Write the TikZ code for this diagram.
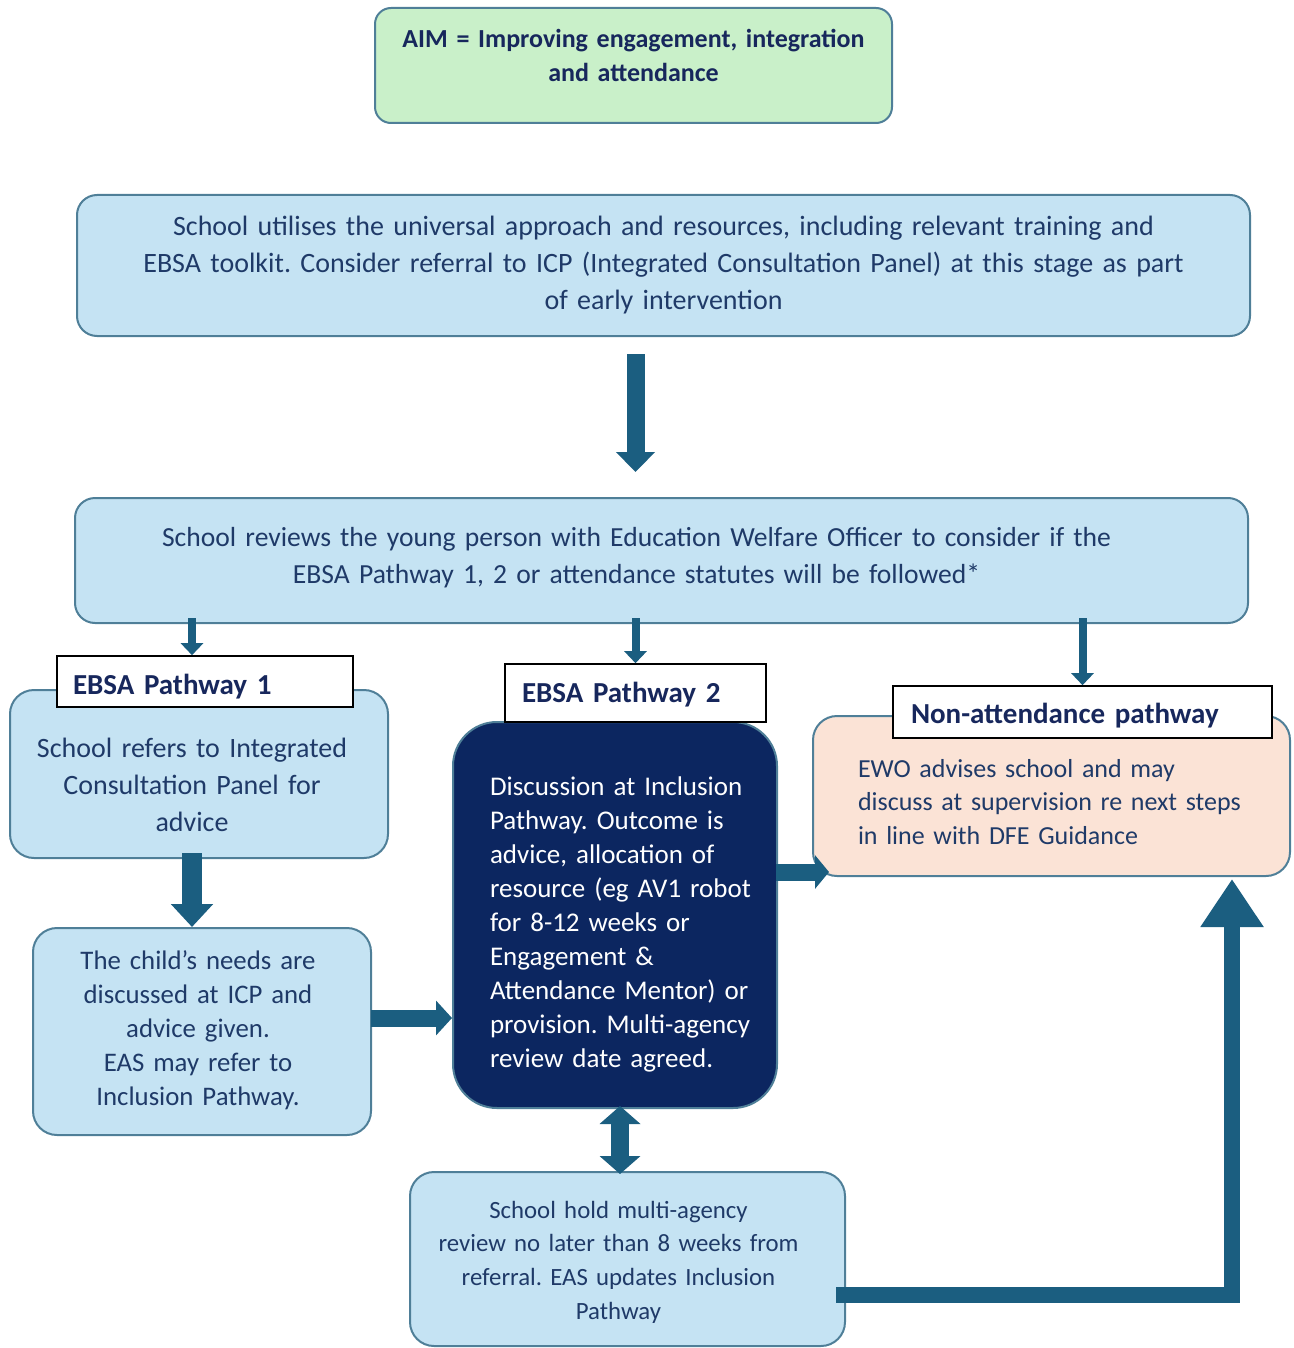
\documentclass[tikz,border=0pt]{standalone}
\usepackage{fontspec}
\setmainfont{Carlito}
\usetikzlibrary{arrows.meta,calc}
\definecolor{lblue}{HTML}{C5E3F3}
\definecolor{bord}{HTML}{4F7F98}
\definecolor{txt}{HTML}{1F3A68}
\definecolor{labtxt}{HTML}{17275C}
\definecolor{lgreen}{HTML}{C9F0C9}
\definecolor{navy}{HTML}{0C2660}
\definecolor{peach}{HTML}{FBE3D6}
\definecolor{arr}{HTML}{1B5E80}
\frenchspacing
\newcommand\rpad[1]{\makebox[#1]{}}
\begin{document}
\begin{tikzpicture}[x=0.5pt,y=-0.5pt,
  box/.style={draw=bord, line width=1pt, fill=lblue, rounded corners=10pt, text=txt, inner sep=0pt, text height=0pt},
  greenbox/.style={box, fill=lgreen, rounded corners=8pt},
  darkbox/.style={draw=bord, line width=1pt, fill=navy, rounded corners=22pt, text=white, inner sep=0pt, text height=0pt},
  peachbox/.style={box, fill=peach},
  labbox/.style={draw=black, line width=0.8pt, fill=white, inner sep=0pt, text=labtxt, align=left, text depth=0pt, font=\fontsize{14.5}{17}\selectfont\bfseries},
  arrbig/.style={draw=arr, line width=9pt, -{Triangle[width=19pt,length=10pt]}},
  arrsmall/.style={draw=arr, line width=4pt, -{Triangle[width=11pt,length=6pt]}},
]
\useasboundingbox (0,0) rectangle (1294,1348);

% boxes
\node[greenbox, minimum width=258.5pt, minimum height=57.5pt, text width=250pt, align=center, text depth=17.5pt,
  font=\fontsize{13}{17}\selectfont\bfseries, text=labtxt] (aim) at (633.5,65.5)
  {AIM = Improving engagement, integration\\and attendance};

\node[box, minimum width=586.5pt, minimum height=70.5pt, text width=580pt, align=center, text depth=30.5pt,
  font=\fontsize{14}{18.5}\selectfont] (b2) at (663.5,265.5)
  {School utilises the universal approach and resources, including relevant training and\\
   EBSA toolkit. Consider referral to ICP (Integrated Consultation Panel) at this stage as part\\
   of early intervention};

\node[box, minimum width=586.5pt, minimum height=62.5pt, text width=580pt, align=center, text depth=14.5pt,
  font=\fontsize{13.8}{18.5}\selectfont] (b3) at (661.5,560.5)
  {School reviews the young person with Education Welfare Officer to consider if the\rpad{25pt}\\
   EBSA Pathway 1, 2 or attendance statutes will be followed*\rpad{25pt}};

\node[box, rounded corners=12pt, minimum width=189pt, minimum height=84pt, text width=185pt, align=center, text depth=17pt,
  font=\fontsize{14}{18.5}\selectfont] (p1) at (199,774)
  {School refers to Integrated\rpad{7pt}\\Consultation Panel for\rpad{7pt}\\advice\rpad{7pt}};

\node[box, rounded corners=12pt, minimum width=169pt, minimum height=103.5pt, text width=165pt, align=center, text depth=62.5pt,
  font=\fontsize{13.4}{17}\selectfont] (child) at (202,1031.5)
  {The child's needs are\rpad{4pt}\\discussed at ICP and\rpad{4pt}\\advice given.\rpad{4pt}\\EAS may refer to\rpad{4pt}\\Inclusion Pathway.\rpad{4pt}};

\node[darkbox, minimum width=162pt, minimum height=193pt, text width=125pt, align=left, text depth=120pt,
  font=\fontsize{13.5}{17}\selectfont] (dark) at (615,915)
  {\mbox{Discussion at Inclusion}\\\mbox{Pathway. Outcome is}\\\mbox{advice, allocation of}\\\mbox{resource (eg AV1 robot}\\\mbox{for 8-12 weeks or}\\\mbox{Engagement \&}\\\mbox{Attendance Mentor) or}\\\mbox{provision. Multi-agency}\\\mbox{review date agreed.}};

\node[peachbox, rounded corners=12pt, minimum width=238.5pt, minimum height=80pt, text width=193.5pt, align=left, text depth=19pt,
  font=\fontsize{13}{16.75}\selectfont] (peach) at (1051.5,796)
  {\mbox{EWO advises school and may}\\\mbox{discuss at supervision re next steps}\\\mbox{in line with DFE Guidance}};

\node[box, rounded corners=12pt, minimum width=217.5pt, minimum height=87pt, text width=214pt, align=center, text depth=41pt,
  font=\fontsize{12.4}{16.9}\selectfont] (review) at (627.5,1259)
  {School hold multi-agency\rpad{9pt}\\review no later than 8 weeks from\rpad{9pt}\\referral. EAS updates Inclusion\rpad{9pt}\\Pathway\rpad{9pt}};

% label boxes
\node[labbox, minimum width=148pt, minimum height=25.5pt, text width=132pt, text height=12.5pt] (p1lab) at (205,681.5)
  {\mbox{EBSA Pathway 1}};
\node[labbox, minimum width=130.5pt, minimum height=29pt, text width=113.5pt, text height=9pt] (p2lab) at (635.5,693)
  {\mbox{EBSA Pathway 2}};
\node[labbox, minimum width=189.5pt, minimum height=26pt, text width=171.5pt, text height=11pt] (nalab) at (1082.5,712)
  {\mbox{Non-attendance pathway}};

% arrows
\draw[arrbig] ($(b2.south -| p2lab.north)+(0,17)$) -- ($(b3.north -| p2lab.north)+(0,-25)$);

\draw[arrsmall] ($(b3.south -| p1lab.north)+(-13,-6)$) -- ($(p1lab.north)+(-13,0)$);
\draw[arrsmall] ($(b3.south -| p2lab.north)+(0,-6)$) -- (p2lab.north);
\draw[arrsmall] ($(b3.south -| nalab.north)+(0,-6)$) -- (nalab.north);

\draw[draw=arr, line width=10pt, -{Triangle[width=20.5pt,length=11.5pt]}]
  ($(p1.south)+(-7,-6)$) -- ($(child.north -| p1.south)+(-7,0)$);

\draw[draw=arr, line width=8.5pt, -{Triangle[width=17pt,length=8pt]}]
  ($(child.east)+(-1,-13.5)$) -- ($(child.east -| dark.west)+(0,-13.5)$);

\draw[draw=arr, line width=8.5pt, -{Triangle[width=16.5pt,length=7pt]}]
  ($(dark.east |- peach.west)+(-2,76)$) -- ($(peach.west)+(17,76)$);

\draw[draw=arr, line width=9pt, {Triangle[width=20pt,length=9pt]}-{Triangle[width=20pt,length=9pt]}]
  ($(dark.south)+(5,-3)$) -- ($(review.north -| dark.south)+(5,3)$);

\draw[draw=arr, line width=8pt, -{Triangle[width=30pt,length=24pt]}]
  ($(review.east)+(-10,36)$) -| ($(peach.south east)+(-59,2)$);
\end{tikzpicture}
\end{document}
